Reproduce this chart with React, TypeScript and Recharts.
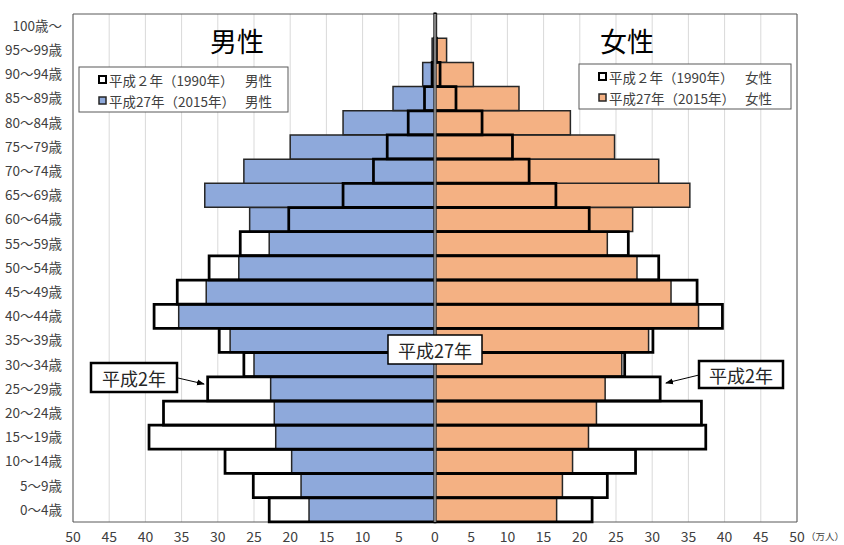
import React from 'react';
import { BarChart, Bar, XAxis, YAxis, CartesianGrid, ReferenceLine, ReferenceArea } from 'recharts';

const ages = [
  '0～4歳', '5～9歳', '10～14歳', '15～19歳', '20～24歳', '25～29歳', '30～34歳',
  '35～39歳', '40～44歳', '45～49歳', '50～54歳', '55～59歳', '60～64歳', '65～69歳',
  '70～74歳', '75～79歳', '80～84歳', '85～89歳', '90～94歳', '95～99歳', '100歳～',
];

// 万人
const male1990 = [22.9, 25.1, 29.0, 39.5, 37.5, 31.4, 26.4, 29.8, 38.8, 35.6, 31.2, 26.9, 20.2, 12.7, 8.5, 6.6, 3.7, 1.45, 0.4, 0.1, 0.01];
const male2015 = [17.4, 18.5, 19.8, 22.0, 22.2, 22.7, 25.0, 28.3, 35.4, 31.6, 27.1, 22.9, 25.6, 31.8, 26.4, 20.0, 12.7, 5.8, 1.7, 0.4, 0.04];
const female1990 = [21.7, 23.8, 27.7, 37.4, 36.8, 31.1, 26.2, 30.1, 39.7, 36.2, 30.9, 26.7, 21.3, 16.7, 13.0, 10.7, 6.5, 2.9, 0.7, 0.2, 0.02];
const female2015 = [16.8, 17.6, 19.0, 21.2, 22.3, 23.5, 25.8, 29.5, 36.4, 32.6, 27.9, 23.8, 27.3, 35.2, 30.9, 24.8, 18.7, 11.6, 5.3, 1.6, 0.2];

const xTicks = [-50, -45, -40, -35, -30, -25, -20, -15, -10, -5, 0, 5, 10, 15, 20, 25, 30, 35, 40, 45, 50];

const rows = ages.map((age, i) => ({
  age,
  m90: -male1990[i],
  f90: female1990[i],
  m15: -male2015[i],
  f15: female2015[i],
}));

const FONT = '"Noto Sans CJK JP", "Noto Sans", sans-serif';
const BLUE = '#8EA9DB';
const ORANGE = '#F4B183';
const TXT = '#404040';

function LegendBox({ x, y, w, h, color, sex }: { x: number; y: number; w: number; h: number; color: string; sex: string }) {
  const mx = x + 20;
  const tx = x + 30;
  const sx = x + 166;
  const l1 = y + 13;
  const l2 = y + 34;
  return (
    <g>
      <rect x={x} y={y} width={w} height={h} fill="#fff" stroke="#595959" strokeWidth={1} />
      <rect x={mx} y={l1 - 4} width={7} height={7} fill="#fff" stroke="#000" strokeWidth={2} />
      <rect x={mx} y={l2 - 4} width={7} height={7} fill={color} stroke="#262626" strokeWidth={1.5} />
      <text x={tx} y={l1} fontSize={13.5} fill={TXT} dominantBaseline="central">平成２年（1990年）</text>
      <text x={sx} y={l1} fontSize={13.5} fill={TXT} dominantBaseline="central">{sex}</text>
      <text x={tx} y={l2} fontSize={13.5} fill={TXT} dominantBaseline="central">平成27年（2015年）</text>
      <text x={sx} y={l2} fontSize={13.5} fill={TXT} dominantBaseline="central">{sex}</text>
    </g>
  );
}

export default function App() {
  return (
    <div style={{ position: 'absolute', left: 0, top: 0, width: 844, height: 545, background: '#fff', fontFamily: FONT }}>
      <BarChart
        layout="vertical"
        width={844}
        height={545}
        data={rows}
        margin={{ top: 14, right: 47, bottom: 0, left: 8 }}
        barCategoryGap={0}
        barGap={0}
        stackOffset="sign"
      >
        <CartesianGrid horizontal={false} vertical={true} stroke="#d9d9d9" strokeWidth={1} yAxisId="w" verticalValues={xTicks} />
        <XAxis
          type="number"
          domain={[-50, 50]}
          ticks={xTicks}
          allowDataOverflow
          tickFormatter={(v: number) => String(Math.abs(v))}
          tickLine={false}
          axisLine={false}
          tickSize={8}
          tickMargin={2}
          height={23}
          tick={{ fontSize: 14, fill: TXT, fontFamily: FONT }}
        />
        <YAxis
          yAxisId="w"
          type="category"
          dataKey="age"
          reversed
          width={65}
          interval={0}
          tickLine={false}
          axisLine={false}
          tickMargin={5}
          tick={{ fontSize: 13.5, fill: TXT, fontFamily: FONT }}
        />
        <YAxis yAxisId="c" type="category" dataKey="age" reversed hide width={0} orientation="right" />
        <YAxis yAxisId="o" type="category" dataKey="age" reversed hide width={0} orientation="right" />

        <Bar yAxisId="w" stackId="w" dataKey="m90" fill="#ffffff" stroke="none" isAnimationActive={false} />
        <Bar yAxisId="w" stackId="w" dataKey="f90" fill="#ffffff" stroke="none" isAnimationActive={false} />

        <Bar yAxisId="c" stackId="c" dataKey="m15" fill={BLUE} stroke="#262626" strokeWidth={1.5} isAnimationActive={false} />
        <Bar yAxisId="c" stackId="c" dataKey="f15" fill={ORANGE} stroke="#262626" strokeWidth={1.5} isAnimationActive={false} />

        <Bar yAxisId="o" stackId="o" dataKey="m90" fill="none" stroke="#000" strokeWidth={2.75} isAnimationActive={false} />
        <Bar yAxisId="o" stackId="o" dataKey="f90" fill="none" stroke="#000" strokeWidth={2.75} isAnimationActive={false} />

        <ReferenceLine yAxisId="w" x={0} stroke="#7f7f7f" strokeWidth={2.5} />
        <ReferenceArea yAxisId="w" x1={-50} x2={50} fill="none" fillOpacity={0} stroke="#595959" strokeWidth={1} ifOverflow="visible" />
      </BarChart>

      <svg width={844} height={545} style={{ position: 'absolute', left: 0, top: 0, pointerEvents: 'none' }} fontFamily={FONT}>
        <defs>
          <marker id="ah" markerWidth="8" markerHeight="8" refX="7" refY="4" orient="auto" markerUnits="userSpaceOnUse">
            <path d="M0,1 L8,4 L0,7 z" fill="#000" />
          </marker>
        </defs>
        <text x={237} y={40} fontSize={27} textAnchor="middle" dominantBaseline="central" fill="#000">男性</text>
        <text x={627} y={40} fontSize={27} textAnchor="middle" dominantBaseline="central" fill="#000">女性</text>

        <LegendBox x={79} y={67} w={209} h={45} color={BLUE} sex="男性" />
        <LegendBox x={579} y={64} w={212} h={45} color={ORANGE} sex="女性" />

        <rect x={388} y={335} width={94} height={29} fill="#fff" stroke="#000" strokeWidth={1.5} />
        <text x={435} y={350} fontSize={18} textAnchor="middle" dominantBaseline="central" fill="#262626">平成27年</text>

        <rect x={91} y={363} width={86} height={29} fill="#fff" stroke="#000" strokeWidth={2.5} />
        <text x={134} y={378} fontSize={18} textAnchor="middle" dominantBaseline="central" fill="#262626">平成2年</text>
        <line x1={178} y1={378} x2={204} y2={384} stroke="#000" strokeWidth={1} markerEnd="url(#ah)" />

        <rect x={699} y={361} width={84} height={27} fill="#fff" stroke="#000" strokeWidth={2.5} />
        <text x={741} y={375} fontSize={18} textAnchor="middle" dominantBaseline="central" fill="#262626">平成2年</text>
        <line x1={699} y1={375} x2={666} y2={383} stroke="#000" strokeWidth={1} markerEnd="url(#ah)" />

        <text x={806} y={536} fontSize={9.5} fill={TXT} dominantBaseline="central">（万人）</text>
      </svg>
    </div>
  );
}
